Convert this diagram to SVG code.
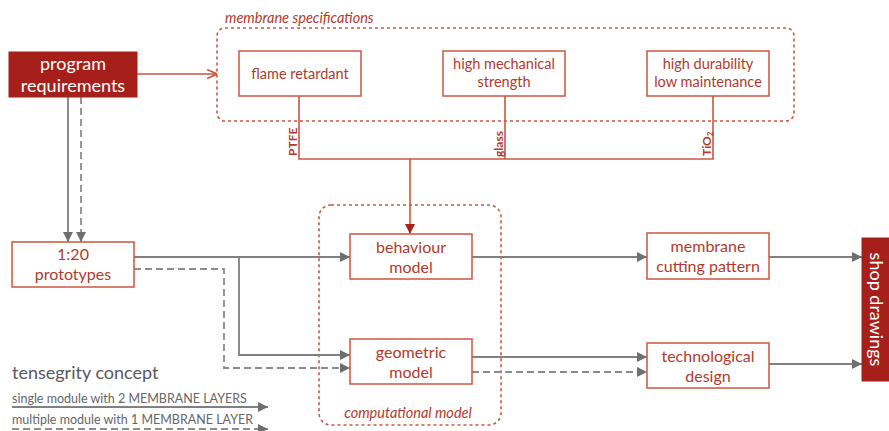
<svg xmlns="http://www.w3.org/2000/svg" width="889" height="431" viewBox="0 0 889 431">
<defs>
<style>
.box{fill:#fff;stroke:#d0604a;stroke-width:1.6}
.dark{fill:#a61f1a;stroke:#a61f1a}
.t{font-family:Lato,"Open Sans","Liberation Sans",sans-serif;fill:#b23a2c;font-size:14.5px;text-anchor:middle}
.t2{font-family:Lato,"Open Sans","Liberation Sans",sans-serif;fill:#b23a2c;font-size:16px;text-anchor:middle}
.w{font-family:Lato,"Open Sans","Liberation Sans",sans-serif;fill:#fff;font-size:18px;text-anchor:middle}
.grp{fill:none;stroke:#c9573f;stroke-width:1.6;stroke-dasharray:3 3}
.it{font-family:Lato,"Open Sans","Liberation Sans",sans-serif;fill:#b23a2c;font-size:14.5px;font-style:italic}
.red{fill:none;stroke:#c9573f;stroke-width:1.6}
.g{fill:none;stroke:#808080;stroke-width:1.8}
.gd{fill:none;stroke:#8c8c8c;stroke-width:1.8;stroke-dasharray:7 4}
.lab{font-family:Lato,"Open Sans","Liberation Sans",sans-serif;fill:#b23a2c;font-size:12px;font-weight:bold}
.leg{font-family:Lato,"Open Sans","Liberation Sans",sans-serif;fill:#666;font-size:12.5px}
</style>
<marker id="ag" viewBox="0 0 10 10" refX="10" refY="5" markerWidth="10" markerHeight="10" markerUnits="userSpaceOnUse" orient="auto"><path d="M0,0 L10,5 L0,10 z" fill="#6f6f6f"/></marker>
<marker id="ar" viewBox="0 0 10 10" refX="10" refY="5" markerWidth="10" markerHeight="10" markerUnits="userSpaceOnUse" orient="auto"><path d="M0,0 L10,5 L0,10 z" fill="#a61f1a"/></marker>
<marker id="ao" viewBox="0 0 10 10" refX="10" refY="5" markerWidth="11" markerHeight="11" markerUnits="userSpaceOnUse" orient="auto"><path d="M1,1 L10,5 L1,9" fill="none" stroke="#c9573f" stroke-width="1.5"/></marker>
</defs>
<rect width="889" height="431" fill="#fff"/>

<g id="membrane-specifications">
<rect class="grp" x="217" y="28" width="577" height="93" rx="8"/>
<text class="it" x="225" y="23">membrane specifications</text>
</g>
<g id="computational-model">
<rect class="grp" x="319" y="205" width="182" height="220" rx="12"/>
<text class="it" x="408" y="418" text-anchor="middle">computational model</text>
</g>

<g id="connectors">
<path class="red" d="M137,74 H217" marker-end="url(#ao)"/>
<path class="red" d="M299,96 V159 H713 V96 M505,96 V159"/>
<path class="red" d="M410,159 V234" marker-end="url(#ar)"/>
<path class="g" d="M68,97 V242" marker-end="url(#ag)"/>
<path class="gd" d="M81,97 V242" marker-end="url(#ag)"/>
<path class="g" d="M134,257 H350" marker-end="url(#ag)"/>
<path class="g" d="M239,257 V355 H350" marker-end="url(#ag)"/>
<path class="gd" d="M134,269 H224 V368 H350" marker-end="url(#ag)"/>
<path class="g" d="M472,257 H647" marker-end="url(#ag)"/>
<path class="g" d="M472,357 H647" marker-end="url(#ag)"/>
<path class="gd" d="M472,372 H647" marker-end="url(#ag)"/>
<path class="g" d="M769,257 H862" marker-end="url(#ag)"/>
<path class="g" d="M769,364 H862" marker-end="url(#ag)"/>
<text class="lab" transform="translate(297,156) rotate(-90)">PTFE</text>
<text class="lab" transform="translate(503,157) rotate(-90)">glass</text>
<text class="lab" transform="translate(711,156) rotate(-90)">TiO<tspan font-size="8" dy="2">2</tspan></text>
</g>

<g id="program-requirements">
<rect class="dark" x="9" y="52" width="128" height="45"/>
<text class="w" x="73" y="70">program</text>
<text class="w" x="73" y="92">requirements</text>
</g>
<g id="flame-retardant">
<rect class="box" x="239" y="51" width="122" height="45"/>
<text class="t" x="300" y="79">flame retardant</text>
</g>
<g id="high-mechanical-strength">
<rect class="box" x="443" y="51" width="122" height="45"/>
<text class="t" x="504" y="69">high mechanical</text>
<text class="t" x="504" y="87">strength</text>
</g>
<g id="high-durability">
<rect class="box" x="647" y="51" width="122" height="45"/>
<text class="t" x="708" y="69">high durability</text>
<text class="t" x="708" y="87">low maintenance</text>
</g>
<g id="prototypes">
<rect class="box" x="12" y="242" width="122" height="45"/>
<text class="t2" x="73" y="260">1:20</text>
<text class="t2" x="73" y="280">prototypes</text>
</g>
<g id="behaviour-model">
<rect class="box" x="350" y="234" width="122" height="45"/>
<text class="t2" x="411" y="253">behaviour</text>
<text class="t2" x="411" y="273">model</text>
</g>
<g id="geometric-model">
<rect class="box" x="350" y="339" width="122" height="45"/>
<text class="t2" x="411" y="358">geometric</text>
<text class="t2" x="411" y="378">model</text>
</g>
<g id="membrane-cutting-pattern">
<rect class="box" x="647" y="233" width="122" height="46"/>
<text class="t2" x="708" y="252">membrane</text>
<text class="t2" x="708" y="272">cutting pattern</text>
</g>
<g id="technological-design">
<rect class="box" x="647" y="343" width="122" height="45"/>
<text class="t2" x="708" y="362">technological</text>
<text class="t2" x="708" y="382">design</text>
</g>
<g id="shop-drawings">
<rect class="dark" x="862" y="238" width="30" height="143"/>
<text class="w" transform="translate(870,309.5) rotate(90)">shop drawings</text>
</g>

<g id="legend">
<text x="12" y="379" font-family="Lato,'Open Sans','Liberation Sans',sans-serif" font-size="18" fill="#595959">tensegrity concept</text>
<text class="leg" x="12" y="403">single module with 2 MEMBRANE LAYERS</text>
<path class="g" d="M12,407 H268" marker-end="url(#ag)"/>
<text class="leg" x="12" y="424">multiple module with 1 MEMBRANE LAYER</text>
<path class="gd" d="M12,429 H268" marker-end="url(#ag)"/>
</g>
</svg>
